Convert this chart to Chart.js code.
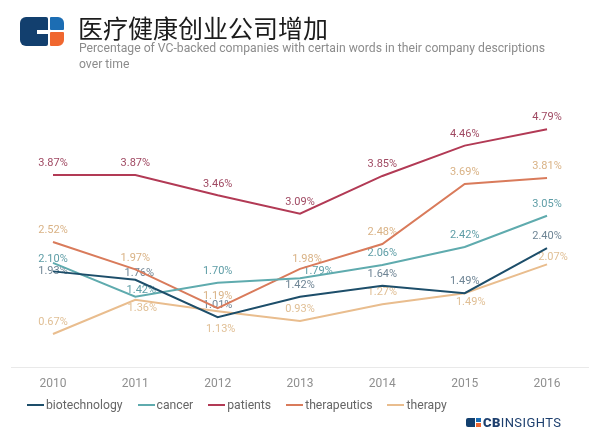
<!DOCTYPE html>
<html><head><meta charset="utf-8">
<script src="https://cdn.jsdelivr.net/npm/chart.js@4"></script>
<style>
html,body{margin:0;padding:0;background:#fff;width:600px;height:434px;overflow:hidden;font-family:Roboto,sans-serif;}
#wrap{position:relative;width:600px;height:434px;}
#c{position:absolute;left:0;top:0;}
#logo{position:absolute;left:20px;top:17px;width:44px;height:29px;}
#logo div{position:absolute;}
#title{position:absolute;left:78px;top:10px;font-family:"Noto Sans CJK SC";font-size:25px;line-height:34px;color:#1c1c1c;white-space:nowrap;}
#sub{position:absolute;left:79px;top:39px;font-family:Roboto;font-size:13.5px;line-height:16px;color:#8c8c8c;white-space:nowrap;}
#sub span{display:inline-block;transform-origin:0 0;}
#legend{position:absolute;left:27px;top:398px;display:flex;gap:15px;font-family:Roboto;font-size:12.2px;color:#666;white-space:nowrap;}
.li{display:flex;align-items:center;}
.sw{width:17px;height:2px;margin-right:2px;}
#cbi{position:absolute;left:466px;top:414px;height:16px;display:flex;align-items:center;}
#cbi .txt{font-family:Roboto;font-size:13px;color:#1d3f6e;letter-spacing:0.4px;margin-left:2px;}
</style></head><body>
<div id="wrap">
<canvas id="c" width="600" height="434"></canvas>
<div id="logo">
  <div style="left:0;top:0;width:28px;height:29px;background:#123f6e;border-radius:6px 2px 2px 6px;"></div>
  <div style="left:17px;top:12.5px;width:12px;height:4px;background:#fff;"></div>
  <div style="left:30px;top:0;width:14px;height:13px;background:#1c6db3;border-radius:1px 6px 1px 1px;"></div>
  <div style="left:30px;top:15px;width:14px;height:14px;background:#f0672f;border-radius:1px 1px 6px 1px;"></div>
</div>
<div id="title">医疗健康创业公司增加</div>
<div id="sub"><span id="s1">Percentage of VC-backed companies with certain words in their company descriptions</span><br><span id="s2">over time</span></div>
<div id="legend"></div>
<div id="cbi">
  <div style="position:relative;width:15px;height:9px;">
    <div style="position:absolute;left:0;top:0;width:9px;height:9px;background:#123f6e;border-radius:2px 0 0 2px;"></div>
    <div style="position:absolute;left:10px;top:0;width:5px;height:4px;background:#1c6db3;"></div>
    <div style="position:absolute;left:10px;top:5px;width:5px;height:4px;background:#f0672f;"></div>
  </div>
  <span class="txt"><b style="font-weight:900;">CB</b>INSIGHTS</span>
</div>
</div>
<script>
// ---- data ----
const years = ['2010', '2011', '2012', '2013', '2014', '2015', '2016'];
const seriesNames = ['biotechnology', 'cancer', 'patients', 'therapeutics', 'therapy'];
const biotechnology = [1.93, 1.76, 1.01, 1.42, 1.64, 1.49, 2.40];
const cancer = [2.10, 1.42, 1.70, 1.79, 2.06, 2.42, 3.05];
const patients = [3.87, 3.87, 3.46, 3.09, 3.85, 4.46, 4.79];
const therapeutics = [2.52, 1.97, 1.19, 1.98, 2.48, 3.69, 3.81];
const therapy = [0.67, 1.36, 1.13, 0.93, 1.27, 1.49, 2.07];

// ---- styles ----
const lineColors = ['#1d4e6a', '#5fabae', '#b23a55', '#d97b5b', '#e9bd8e'];
const labelColors = ['#6f8595', '#5e9da6', '#a04a63', '#d9b285', '#e0bf95'];
const seriesValues = [biotechnology, cancer, patients, therapeutics, therapy];
// label offsets [dx, dy] relative to point (default above)
const defaultOffset = [0, -11.5];
const labelOffsets = {
  0: {0: [0, 0], 1: [4, -7]},
  1: {0: [0, -4], 1: [6, -6.5], 3: [18, -7]},
  3: {3: [7, -10]},
  4: {1: [7, 9], 2: [3, 18], 5: [6, 9], 6: [6, -7]}
};

const labelPlugin = {
  id: 'valueLabels',
  beforeDatasetsDraw(chart) {
    const ctx = chart.ctx;
    ctx.save();
    ctx.font = '11px Roboto';
    ctx.textAlign = 'center';
    ctx.textBaseline = 'middle';
    chart.data.datasets.forEach((ds, di) => {
      const meta = chart.getDatasetMeta(di);
      ctx.fillStyle = labelColors[di];
      meta.data.forEach((pt, i) => {
        const off = (labelOffsets[di] && labelOffsets[di][i]) || defaultOffset;
        ctx.fillText(ds.data[i].toFixed(2) + '%', pt.x + off[0], pt.y + off[1]);
      });
    });
    ctx.restore();
  }
};

const chart = new Chart(document.getElementById('c'), {
  type: 'line',
  data: {
    labels: years,
    datasets: seriesNames.map((n, i) => ({
      label: n,
      data: seriesValues[i],
      borderColor: lineColors[i],
      backgroundColor: lineColors[i],
      borderWidth: 2,
      pointRadius: 0,
      tension: 0,
      fill: false
    }))
  },
  options: {
    responsive: false,
    animation: false,
    devicePixelRatio: 1,
    layout: {padding: {left: 11.8, right: 11.8, top: 118.8, bottom: 36.7}},
    plugins: {legend: {display: false}, tooltip: {enabled: false}},
    scales: {
      x: {
        offset: true,
        grid: {display: false, drawTicks: false},
        border: {display: true, color: '#e9e9e9', width: 1},
        ticks: {color: '#8f8f8f', font: {family: 'Roboto', size: 12}, padding: 9, maxRotation: 0},
        afterFit(s) { s.height = 30; }
      },
      y: {display: false, min: 0, max: 5}
    }
  },
  plugins: [labelPlugin]
});

// legend built from series
const lg = document.getElementById('legend');
seriesNames.forEach((n, i) => {
  const d = document.createElement('div');
  d.className = 'li';
  d.innerHTML = '<span class="sw" style="background:' + lineColors[i] + '"></span><span>' + n + '</span>';
  lg.appendChild(d);
});
// fit subtitle width
const s1 = document.getElementById('s1');
const w = s1.getBoundingClientRect().width;
const k = 466 / w;
s1.style.transform = 'scaleX(' + k + ')';
document.getElementById('s2').style.transform = 'scaleX(' + k + ')';
</script>
</body></html>
